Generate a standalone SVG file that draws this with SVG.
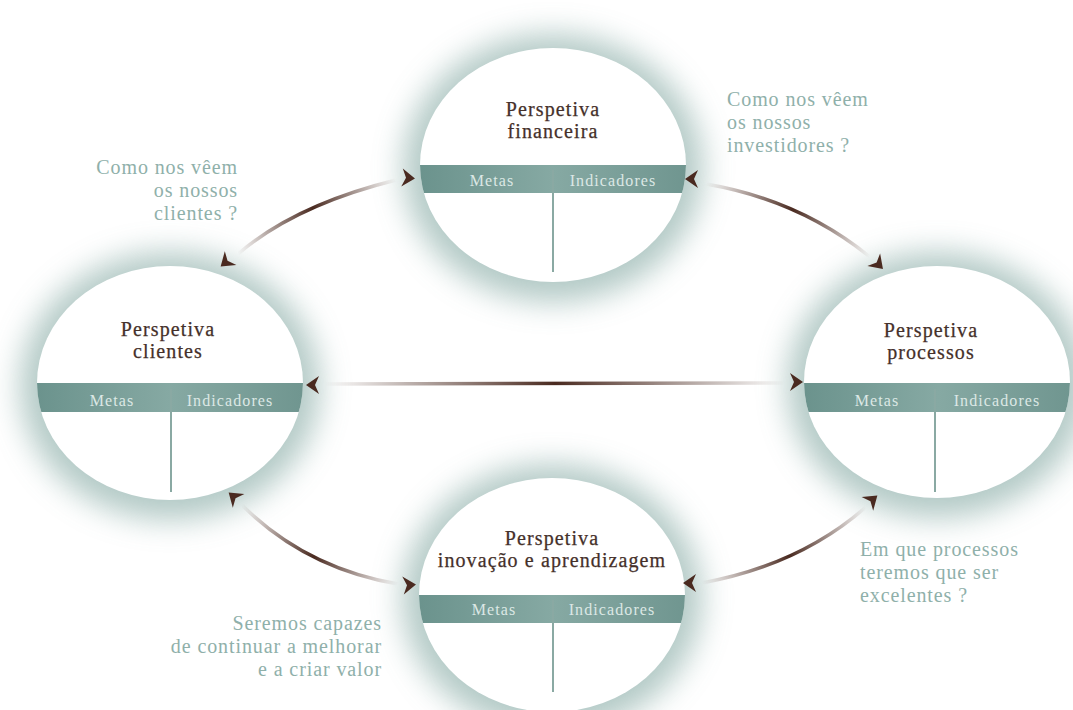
<svg xmlns="http://www.w3.org/2000/svg" width="1073" height="710" viewBox="0 0 1073 710">
<style>
.title{font-family:"Liberation Serif",serif;font-size:20px;fill:#45302a;text-anchor:middle;letter-spacing:1.1px;stroke:#45302a;stroke-width:0.25px}
.band{font-family:"Liberation Serif",serif;font-size:16px;fill:#dce8e5;text-anchor:middle;letter-spacing:1.1px}
.q{font-family:"Liberation Serif",serif;font-size:20px;fill:#8fb0aa;letter-spacing:0.9px}
.halo{fill:#9ab8b3;filter:url(#blur);opacity:0.75}
.disc{fill:#ffffff}
.div{stroke:#8aa9a3;stroke-width:2}
.conn{fill:none;stroke-width:3.5;stroke-linecap:round}
.chev{fill:#4a2a20}
</style>
<defs>
<filter id="blur" x="-30%" y="-30%" width="160%" height="160%"><feGaussianBlur stdDeviation="15"/></filter>
<linearGradient id="bandg" x1="0" y1="0" x2="1" y2="0">
<stop offset="0" stop-color="#6a928c"/><stop offset="0.5" stop-color="#86a9a3"/><stop offset="1" stop-color="#6f958f"/>
</linearGradient>
<path id="chev" d="M-6,-9 L7,0 L-6,9 L-2,0 Z"/>
<clipPath id="cT"><ellipse cx="553" cy="165" rx="133" ry="117"/></clipPath>
<clipPath id="cL"><ellipse cx="170" cy="383" rx="133" ry="117"/></clipPath>
<clipPath id="cR"><ellipse cx="937" cy="382" rx="133" ry="116"/></clipPath>
<clipPath id="cB"><ellipse cx="552" cy="595" rx="133" ry="117"/></clipPath>
<linearGradient id="gA" gradientUnits="userSpaceOnUse" x1="238" y1="254" x2="396" y2="180">
<stop offset="0" stop-color="#4a2a20" stop-opacity="0"/><stop offset="0.5" stop-color="#4a2a20"/><stop offset="1" stop-color="#4a2a20" stop-opacity="0"/></linearGradient>
<linearGradient id="gB" gradientUnits="userSpaceOnUse" x1="706" y1="184" x2="870" y2="257">
<stop offset="0" stop-color="#4a2a20" stop-opacity="0"/><stop offset="0.5" stop-color="#4a2a20"/><stop offset="1" stop-color="#4a2a20" stop-opacity="0"/></linearGradient>
<linearGradient id="gC" gradientUnits="userSpaceOnUse" x1="325" y1="384" x2="785" y2="384">
<stop offset="0" stop-color="#4a2a20" stop-opacity="0"/><stop offset="0.5" stop-color="#4a2a20"/><stop offset="1" stop-color="#4a2a20" stop-opacity="0"/></linearGradient>
<linearGradient id="gD" gradientUnits="userSpaceOnUse" x1="242" y1="505" x2="398" y2="584">
<stop offset="0" stop-color="#4a2a20" stop-opacity="0"/><stop offset="0.5" stop-color="#4a2a20"/><stop offset="1" stop-color="#4a2a20" stop-opacity="0"/></linearGradient>
<linearGradient id="gE" gradientUnits="userSpaceOnUse" x1="702" y1="583" x2="866" y2="507">
<stop offset="0" stop-color="#4a2a20" stop-opacity="0"/><stop offset="0.5" stop-color="#4a2a20"/><stop offset="1" stop-color="#4a2a20" stop-opacity="0"/></linearGradient>
</defs>
<rect width="1073" height="710" fill="#ffffff"/>
<g id="halos">
<ellipse class="halo" cx="553" cy="168" rx="150" ry="134"/>
<ellipse class="halo" cx="170" cy="386" rx="150" ry="134"/>
<ellipse class="halo" cx="937" cy="385" rx="150" ry="133"/>
<ellipse class="halo" cx="552" cy="598" rx="150" ry="134"/>
</g>
<g id="node-financeira">
<ellipse class="disc" cx="553" cy="165" rx="133" ry="117"/>
<rect x="415" y="165" width="276" height="28" fill="url(#bandg)" clip-path="url(#cT)"/>
<line class="div" x1="553" y1="170" x2="553" y2="272"/>
<text class="title" x="553" y="116">Perspetiva</text>
<text class="title" x="553" y="138">financeira</text>
<text class="band" x="492" y="186">Metas</text>
<text class="band" x="613" y="186">Indicadores</text>
</g>
<g id="node-clientes">
<ellipse class="disc" cx="170" cy="383" rx="133" ry="117"/>
<rect x="32" y="383" width="276" height="29" fill="url(#bandg)" clip-path="url(#cL)"/>
<line class="div" x1="171" y1="389" x2="171" y2="492"/>
<text class="title" x="168" y="336">Perspetiva</text>
<text class="title" x="168" y="358">clientes</text>
<text class="band" x="112" y="406">Metas</text>
<text class="band" x="230" y="406">Indicadores</text>
</g>
<g id="node-processos">
<ellipse class="disc" cx="937" cy="382" rx="133" ry="116"/>
<rect x="800" y="383" width="276" height="29" fill="url(#bandg)" clip-path="url(#cR)"/>
<line class="div" x1="935" y1="389" x2="935" y2="492"/>
<text class="title" x="931" y="337">Perspetiva</text>
<text class="title" x="931" y="359">processos</text>
<text class="band" x="877" y="406">Metas</text>
<text class="band" x="997" y="406">Indicadores</text>
</g>
<g id="node-inovacao">
<ellipse class="disc" cx="552" cy="595" rx="133" ry="117"/>
<rect x="415" y="595" width="276" height="28" fill="url(#bandg)" clip-path="url(#cB)"/>
<line class="div" x1="553" y1="600" x2="553" y2="692"/>
<text class="title" x="552" y="545">Perspetiva</text>
<text class="title" x="552" y="567">inovação e aprendizagem</text>
<text class="band" x="494" y="615">Metas</text>
<text class="band" x="612" y="615">Indicadores</text>
</g>
<g id="connectors">
<path class="conn" stroke="url(#gA)" d="M238,254 Q295,205 396,180"/>
<path class="conn" stroke="url(#gB)" d="M706,184 Q800,200 870,257"/>
<path class="conn" stroke="url(#gC)" d="M325,384 L785,383"/>
<path class="conn" stroke="url(#gD)" d="M242,505 Q305,568 398,584"/>
<path class="conn" stroke="url(#gE)" d="M702,583 Q800,565 866,507"/>
<use class="chev" href="#chev" transform="translate(226,262) rotate(140)"/>
<use class="chev" href="#chev" transform="translate(408,178) rotate(5)"/>
<use class="chev" href="#chev" transform="translate(692,179) rotate(180)"/>
<use class="chev" href="#chev" transform="translate(878,264) rotate(45)"/>
<use class="chev" href="#chev" transform="translate(313,385) rotate(180)"/>
<use class="chev" href="#chev" transform="translate(796,382) rotate(0)"/>
<use class="chev" href="#chev" transform="translate(234,497) rotate(220)"/>
<use class="chev" href="#chev" transform="translate(409,585) rotate(-5)"/>
<use class="chev" href="#chev" transform="translate(872,500) rotate(-40)"/>
<use class="chev" href="#chev" transform="translate(690,583) rotate(180)"/>
</g>
<g id="questions">
<text class="q" text-anchor="end" x="238" y="174">Como nos vêem</text>
<text class="q" text-anchor="end" x="238" y="197">os nossos</text>
<text class="q" text-anchor="end" x="238" y="220">clientes ?</text>
<text class="q" x="727" y="106">Como nos vêem</text>
<text class="q" x="727" y="129">os nossos</text>
<text class="q" x="727" y="152">investidores ?</text>
<text class="q" x="860" y="556">Em que processos</text>
<text class="q" x="860" y="579">teremos que ser</text>
<text class="q" x="860" y="602">excelentes ?</text>
<text class="q" text-anchor="end" x="382" y="630">Seremos capazes</text>
<text class="q" text-anchor="end" x="382" y="653">de continuar a melhorar</text>
<text class="q" text-anchor="end" x="382" y="676">e a criar valor</text>
</g>
</svg>
